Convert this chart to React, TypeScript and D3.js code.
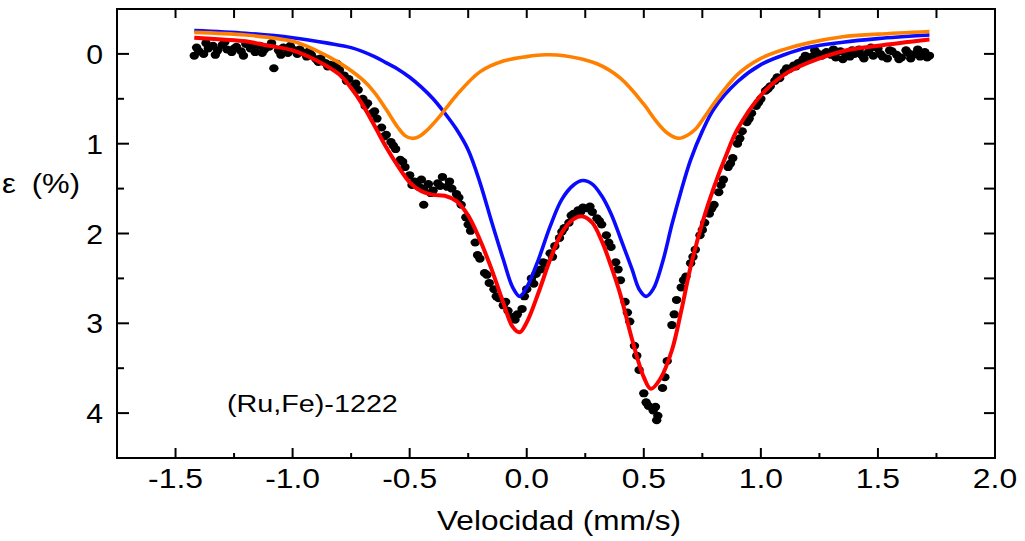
import * as d3 from "d3";

// experimental spectrum, [velocity mm/s, absorption %]
const obsMain: [number, number][] = [
  [-1.42, 0.02], [-1.4, -0.03], [-1.38, 0.0], [-1.36, -0.06], [-1.34, -0.09], [-1.32, -0.04],
  [-1.3, -0.1], [-1.28, -0.05], [-1.26, -0.02], [-1.24, -0.08], [-1.22, -0.03], [-1.2, -0.11],
  [-1.18, -0.06], [-1.16, -0.02], [-1.14, -0.09], [-1.12, -0.05], [-1.1, -0.08], [-1.08, 0.16],
  [-1.06, -0.04], [-1.04, -0.07], [-1.02, -0.01], [-1.0, -0.05], [-0.98, 0.0], [-0.96, -0.02],
  [-0.94, 0.03], [-0.92, 0.01], [-0.9, 0.06], [-0.88, 0.05], [-0.86, 0.1], [-0.84, 0.12],
  [-0.82, 0.15], [-0.8, 0.18], [-0.78, 0.24], [-0.76, 0.28], [-0.74, 0.36], [-0.72, 0.4],
  [-0.7, 0.5], [-0.68, 0.55], [-0.66, 0.66], [-0.64, 0.72], [-0.62, 0.82], [-0.6, 0.9],
  [-0.58, 0.98], [-0.56, 1.06], [-0.54, 1.18], [-0.52, 1.26], [-0.5, 1.35], [-0.48, 1.42],
  [-0.46, 1.48], [-0.44, 1.5], [-0.42, 1.45], [-0.4, 1.52], [-0.38, 1.44], [-0.36, 1.37],
  [-0.34, 1.48], [-0.32, 1.5], [-0.3, 1.56], [-0.28, 1.68], [-0.26, 1.82], [-0.24, 1.97],
  [-0.22, 2.1], [-0.2, 2.28], [-0.18, 2.44], [-0.16, 2.55], [-0.14, 2.62], [-0.12, 2.72],
  [-0.1, 2.8], [-0.08, 2.86], [-0.06, 2.93], [-0.04, 2.9], [-0.02, 2.84], [0.0, 2.62],
  [0.02, 2.5], [0.04, 2.45], [0.06, 2.4], [0.08, 2.33], [0.1, 2.22], [0.12, 2.14],
  [0.14, 2.05], [0.16, 1.94], [0.18, 1.88], [0.2, 1.78], [0.22, 1.74], [0.24, 1.71],
  [0.26, 1.72], [0.28, 1.76], [0.3, 1.83], [0.32, 1.9], [0.34, 2.02], [0.36, 2.15],
  [0.38, 2.32], [0.4, 2.52], [0.42, 2.76], [0.44, 2.98], [0.46, 3.25], [0.48, 3.52],
  [0.5, 3.78], [0.52, 3.92], [0.54, 3.97], [0.56, 4.03], [0.58, 3.72], [0.6, 3.42],
  [0.62, 3.02], [0.64, 2.74], [0.66, 2.6], [0.68, 2.48], [0.7, 2.33], [0.72, 2.18],
  [0.74, 2.02], [0.76, 1.88], [0.78, 1.78], [0.8, 1.68], [0.82, 1.54], [0.84, 1.4],
  [0.86, 1.26], [0.88, 1.16], [0.9, 1.0], [0.92, 0.86], [0.94, 0.76], [0.96, 0.66],
  [0.98, 0.58], [1.0, 0.5], [1.02, 0.41], [1.04, 0.36], [1.06, 0.3], [1.08, 0.27],
  [1.1, 0.2], [1.12, 0.17], [1.14, 0.13], [1.16, 0.1], [1.18, 0.06], [1.2, 0.04],
  [1.22, 0.03], [1.24, -0.01], [1.26, 0.02], [1.28, -0.02], [1.3, 0.01], [1.32, 0.04],
  [1.34, -0.03], [1.36, -0.01], [1.38, 0.03], [1.4, 0.0], [1.42, -0.05], [1.44, 0.05],
  [1.46, -0.02], [1.48, 0.02], [1.5, -0.06], [1.52, 0.03], [1.54, 0.05], [1.56, -0.03],
  [1.58, 0.01], [1.6, 0.04], [1.62, -0.04], [1.64, 0.05], [1.66, 0.0], [1.68, 0.03],
  [1.7, -0.02], [1.72, 0.02],
];

const obsExtra: [number, number][] = [
  [-1.41, -0.07], [-1.37, -0.12], [-1.33, 0.01], [-1.29, -0.13], [-1.25, -0.06], [-1.21, 0.02],
  [-1.17, -0.1], [-1.13, -0.01], [-1.09, -0.12], [-1.05, 0.01], [-1.01, -0.09], [-0.97, -0.05],
  [-0.93, -0.03], [-0.89, 0.09], [-0.85, 0.14], [-0.81, 0.11], [-0.77, 0.3], [-0.73, 0.33],
  [-0.69, 0.58], [-0.65, 0.64], [-0.61, 0.92], [-0.57, 1.02], [-0.53, 1.2], [-0.49, 1.46],
  [-0.45, 1.4], [-0.44, 1.68], [-0.41, 1.55], [-0.37, 1.47], [-0.33, 1.42], [-0.29, 1.6],
  [-0.25, 1.9], [-0.21, 2.24], [-0.17, 2.46], [-0.13, 2.7], [-0.09, 2.76], [-0.05, 2.96],
  [-0.01, 2.7], [0.03, 2.56], [0.07, 2.32], [0.11, 2.26], [0.15, 1.98], [0.19, 1.8],
  [0.23, 1.76], [0.27, 1.7], [0.31, 1.86], [0.35, 2.1], [0.39, 2.4], [0.43, 2.88],
  [0.47, 3.36], [0.51, 3.88], [0.55, 3.93], [0.555, 4.08], [0.59, 3.6], [0.63, 2.9],
  [0.67, 2.52], [0.71, 2.26], [0.75, 1.96], [0.79, 1.72], [0.83, 1.46], [0.87, 1.22],
  [0.91, 0.94], [0.95, 0.72], [0.99, 0.54], [1.03, 0.39], [1.07, 0.26], [1.11, 0.16],
  [1.15, 0.14], [1.19, 0.02], [1.23, -0.04], [1.27, 0.0], [1.31, -0.05], [1.35, 0.06],
  [1.39, -0.04], [1.43, 0.01], [1.47, -0.07], [1.51, 0.0], [1.55, -0.04], [1.59, 0.06],
  [1.63, -0.01], [1.67, -0.05], [1.71, 0.04],
];

// fitted subspectra
const fitBlue: [number, number][] = [
  [-1.42, -0.26], [-1.2, -0.23], [-1.0, -0.18], [-0.85, -0.12], [-0.75, -0.07], [-0.65, 0.03],
  [-0.6, 0.1], [-0.55, 0.17], [-0.5, 0.26], [-0.45, 0.37], [-0.4, 0.5], [-0.35, 0.66],
  [-0.3, 0.84], [-0.25, 1.07], [-0.2, 1.43], [-0.15, 1.87], [-0.1, 2.29], [-0.06, 2.6],
  [-0.03, 2.7], [0.0, 2.6], [0.05, 2.29], [0.1, 1.92], [0.15, 1.62], [0.2, 1.46],
  [0.24, 1.41], [0.28, 1.45], [0.32, 1.58], [0.36, 1.78], [0.4, 2.05], [0.45, 2.4],
  [0.48, 2.62], [0.51, 2.7], [0.54, 2.62], [0.58, 2.32], [0.62, 1.9], [0.66, 1.52],
  [0.7, 1.18], [0.75, 0.86], [0.8, 0.61], [0.9, 0.31], [1.0, 0.12], [1.1, 0.01], [1.2, -0.07],
  [1.35, -0.13], [1.5, -0.17], [1.72, -0.21],
];

const fitOrange: [number, number][] = [
  [-1.42, -0.24], [-1.2, -0.21], [-1.0, -0.14], [-0.9, -0.04], [-0.8, 0.1], [-0.7, 0.29],
  [-0.65, 0.43], [-0.6, 0.62], [-0.55, 0.82], [-0.52, 0.91], [-0.49, 0.94], [-0.46, 0.92],
  [-0.43, 0.86], [-0.38, 0.72], [-0.34, 0.59], [-0.3, 0.46], [-0.2, 0.2], [-0.1, 0.08],
  [0.0, 0.03], [0.08, 0.01], [0.16, 0.02], [0.3, 0.11], [0.4, 0.27], [0.5, 0.56],
  [0.55, 0.74], [0.6, 0.88], [0.65, 0.94], [0.69, 0.9], [0.72, 0.84], [0.76, 0.7],
  [0.8, 0.55], [0.9, 0.23], [1.0, 0.05], [1.1, -0.05], [1.2, -0.12], [1.35, -0.19],
  [1.5, -0.22], [1.72, -0.25],
];

const fitRed: [number, number][] = [
  [-1.42, -0.18], [-1.3, -0.16], [-1.2, -0.14], [-1.1, -0.09], [-1.0, -0.04], [-0.9, 0.07],
  [-0.8, 0.23], [-0.75, 0.38], [-0.7, 0.57], [-0.65, 0.8], [-0.6, 1.04], [-0.55, 1.25],
  [-0.5, 1.43], [-0.45, 1.53], [-0.4, 1.57], [-0.35, 1.58], [-0.3, 1.64], [-0.25, 1.8],
  [-0.2, 2.07], [-0.15, 2.4], [-0.1, 2.77], [-0.06, 3.04], [-0.03, 3.1], [0.0, 2.99],
  [0.05, 2.66], [0.1, 2.29], [0.15, 1.99], [0.2, 1.84], [0.24, 1.81], [0.28, 1.88],
  [0.32, 2.08], [0.36, 2.36], [0.4, 2.68], [0.45, 3.18], [0.5, 3.6], [0.53, 3.73],
  [0.57, 3.62], [0.62, 3.3], [0.66, 2.86], [0.7, 2.37], [0.75, 1.88], [0.8, 1.48],
  [0.85, 1.14], [0.9, 0.84], [1.0, 0.46], [1.1, 0.23], [1.2, 0.1], [1.35, -0.03],
  [1.5, -0.09], [1.72, -0.16],
];

const xMajor = [-1.5, -1.0, -0.5, 0, 0.5, 1.0, 1.5, 2.0];
const xLabels = ["-1.5", "-1.0", "-0.5", "0.0", "0.5", "1.0", "1.5", "2.0"];
const xMinor = [-1.25, -0.75, -0.25, 0.25, 0.75, 1.25, 1.75];
const yMajor = [0, 1, 2, 3, 4];
const yLabels = ["0", "1", "2", "3", "4"];
const yMinor = [0.5, 1.5, 2.5, 3.5];

const W = 1025;
const H = 541;
const left = 117, right = 995, top = 9, bottom = 458;
const font = "Liberation Sans, Arial, sans-serif";

export default function App() {
  const x = d3.scaleLinear().domain([-1.75, 2.0]).range([left, right]);
  const y = d3.scaleLinear().domain([-0.5, 4.5]).range([top, bottom]);

  const line = d3
    .line<[number, number]>()
    .x((d) => x(d[0]))
    .y((d) => y(d[1]))
    .curve(d3.curveCatmullRom.alpha(0.5));

  const allX = [...xMajor, ...xMinor];
  const allY = [...yMajor, ...yMinor];
  const pts = [...obsMain, ...obsExtra];

  return (
    <svg width={W} height={H} style={{ position: "absolute", left: 0, top: 0, background: "#fff" }}>
      {/* data */}
      <g fill="#000">
        {pts.map((d, i) => (
          <ellipse key={i} cx={x(d[0])} cy={y(d[1])} rx={4.7} ry={4} />
        ))}
      </g>
      <path d={line(fitBlue) ?? ""} fill="none" stroke="#0a0aff" strokeWidth={3.6} />
      <path d={line(fitOrange) ?? ""} fill="none" stroke="#ff8000" strokeWidth={3.6} />
      <path d={line(fitRed) ?? ""} fill="none" stroke="#ff0000" strokeWidth={4} />

      {/* frame */}
      <rect x={left} y={top} width={right - left} height={bottom - top} fill="none" stroke="#000" strokeWidth={2} />

      {/* bottom ticks */}
      {xMajor.map((v) => (
        <line key={"bx" + v} x1={x(v)} x2={x(v)} y1={bottom} y2={bottom - 10} stroke="#000" strokeWidth={2} />
      ))}
      {xMinor.map((v) => (
        <line key={"bm" + v} x1={x(v)} x2={x(v)} y1={bottom} y2={bottom - 5} stroke="#000" strokeWidth={2} />
      ))}
      {/* top ticks */}
      {allX.map((v) => (
        <line key={"tx" + v} x1={x(v)} x2={x(v)} y1={top} y2={top + 9} stroke="#000" strokeWidth={2} />
      ))}
      {/* left ticks */}
      {yMajor.map((v) => (
        <line key={"ly" + v} x1={left} x2={left + 12} y1={y(v)} y2={y(v)} stroke="#000" strokeWidth={2} />
      ))}
      {yMinor.map((v) => (
        <line key={"lm" + v} x1={left} x2={left + 7} y1={y(v)} y2={y(v)} stroke="#000" strokeWidth={2} />
      ))}
      {/* right ticks */}
      {allY.map((v) => (
        <line key={"ry" + v} x1={right} x2={right - 11} y1={y(v)} y2={y(v)} stroke="#000" strokeWidth={2} />
      ))}

      {/* tick labels */}
      <g fontFamily={font} fontSize={27} fill="#000">
        {xMajor.map((v, i) => (
          <text key={"xl" + v} transform={`translate(${x(v)},${488}) scale(1.18,1)`} textAnchor="middle">
            {xLabels[i]}
          </text>
        ))}
        {yMajor.map((v, i) => (
          <text key={"yl" + v} transform={`translate(${left - 14},${y(v) + 10}) scale(1.12,1)`} textAnchor="end">
            {yLabels[i]}
          </text>
        ))}
      </g>

      {/* axis titles */}
      <text
        transform={`translate(${(left + right) / 2 + 3},530) scale(1.17,1)`}
        textAnchor="middle"
        fontFamily={font}
        fontSize={27}
      >
        Velocidad (mm/s)
      </text>
      <text transform="translate(2,193) scale(1.15,1)" fontFamily={font} fontSize={27}>
        ε
      </text>
      <text transform="translate(80,193) scale(1.15,1)" textAnchor="end" fontFamily={font} fontSize={27}>
        (%)
      </text>

      <text transform="translate(227,412) scale(1.25,1)" fontFamily={font} fontSize={23}>
        (Ru,Fe)-1222
      </text>
    </svg>
  );
}
